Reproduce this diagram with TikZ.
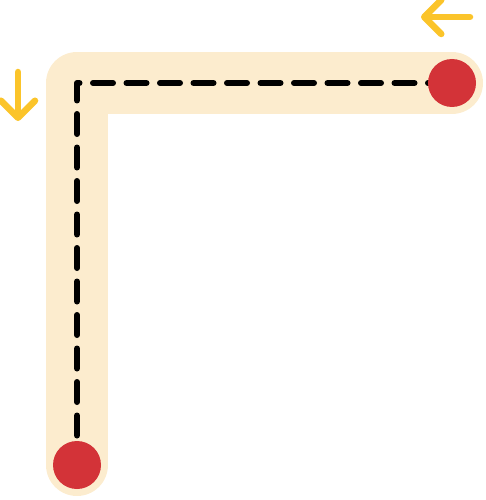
\documentclass[tikz,border=0pt]{standalone}
\usepackage{xcolor}
\usepackage{tikz}
\definecolor{trackbeige}{RGB}{252, 236, 206}
\definecolor{pinred}{RGB}{211, 51, 56}
\definecolor{hintyellow}{RGB}{251, 196, 42}
\usetikzlibrary{arrows.meta, positioning, backgrounds, calc}

\begin{document}
\begin{tikzpicture}[
    x=1pt, y=-1pt,
    band/.style={line width=62pt, draw=trackbeige, line cap=round, line join=round},
    route/.style={line width=6pt, draw=black, line cap=round, line join=round, dash pattern=on 20pt off 13.5pt, dash phase=4pt},
    pin/.style={circle, fill=pinred, minimum size=48pt, inner sep=0pt},
    hint/.style={line width=6.5pt, draw=hintyellow, line cap=round, -{Straight Barb[length=17pt, width=34pt, round]}}
]
    \useasboundingbox (0,0) rectangle (486,500);

    \coordinate (bend) at (77, 83);
    \coordinate (hintA) at (470, 17);
    \coordinate (hintB) at (421, 17);
    \coordinate (hintC) at (18, 72);
    \coordinate (hintD) at (18, 121);

    \node[pin] (start) at (77, 465) {};
    \node[pin] (finish) at (452, 83) {};

    % track and dashed route behind the pins
    \begin{scope}[on background layer]
        \draw[band] (start.center) -- (bend) -- (finish.center);
        \draw[route] (start.center) -- (bend) -- (finish.center);
    \end{scope}

    \draw[hint] (hintA) -- (hintB);
    \draw[hint] (hintC) -- (hintD);
\end{tikzpicture}
\end{document}
